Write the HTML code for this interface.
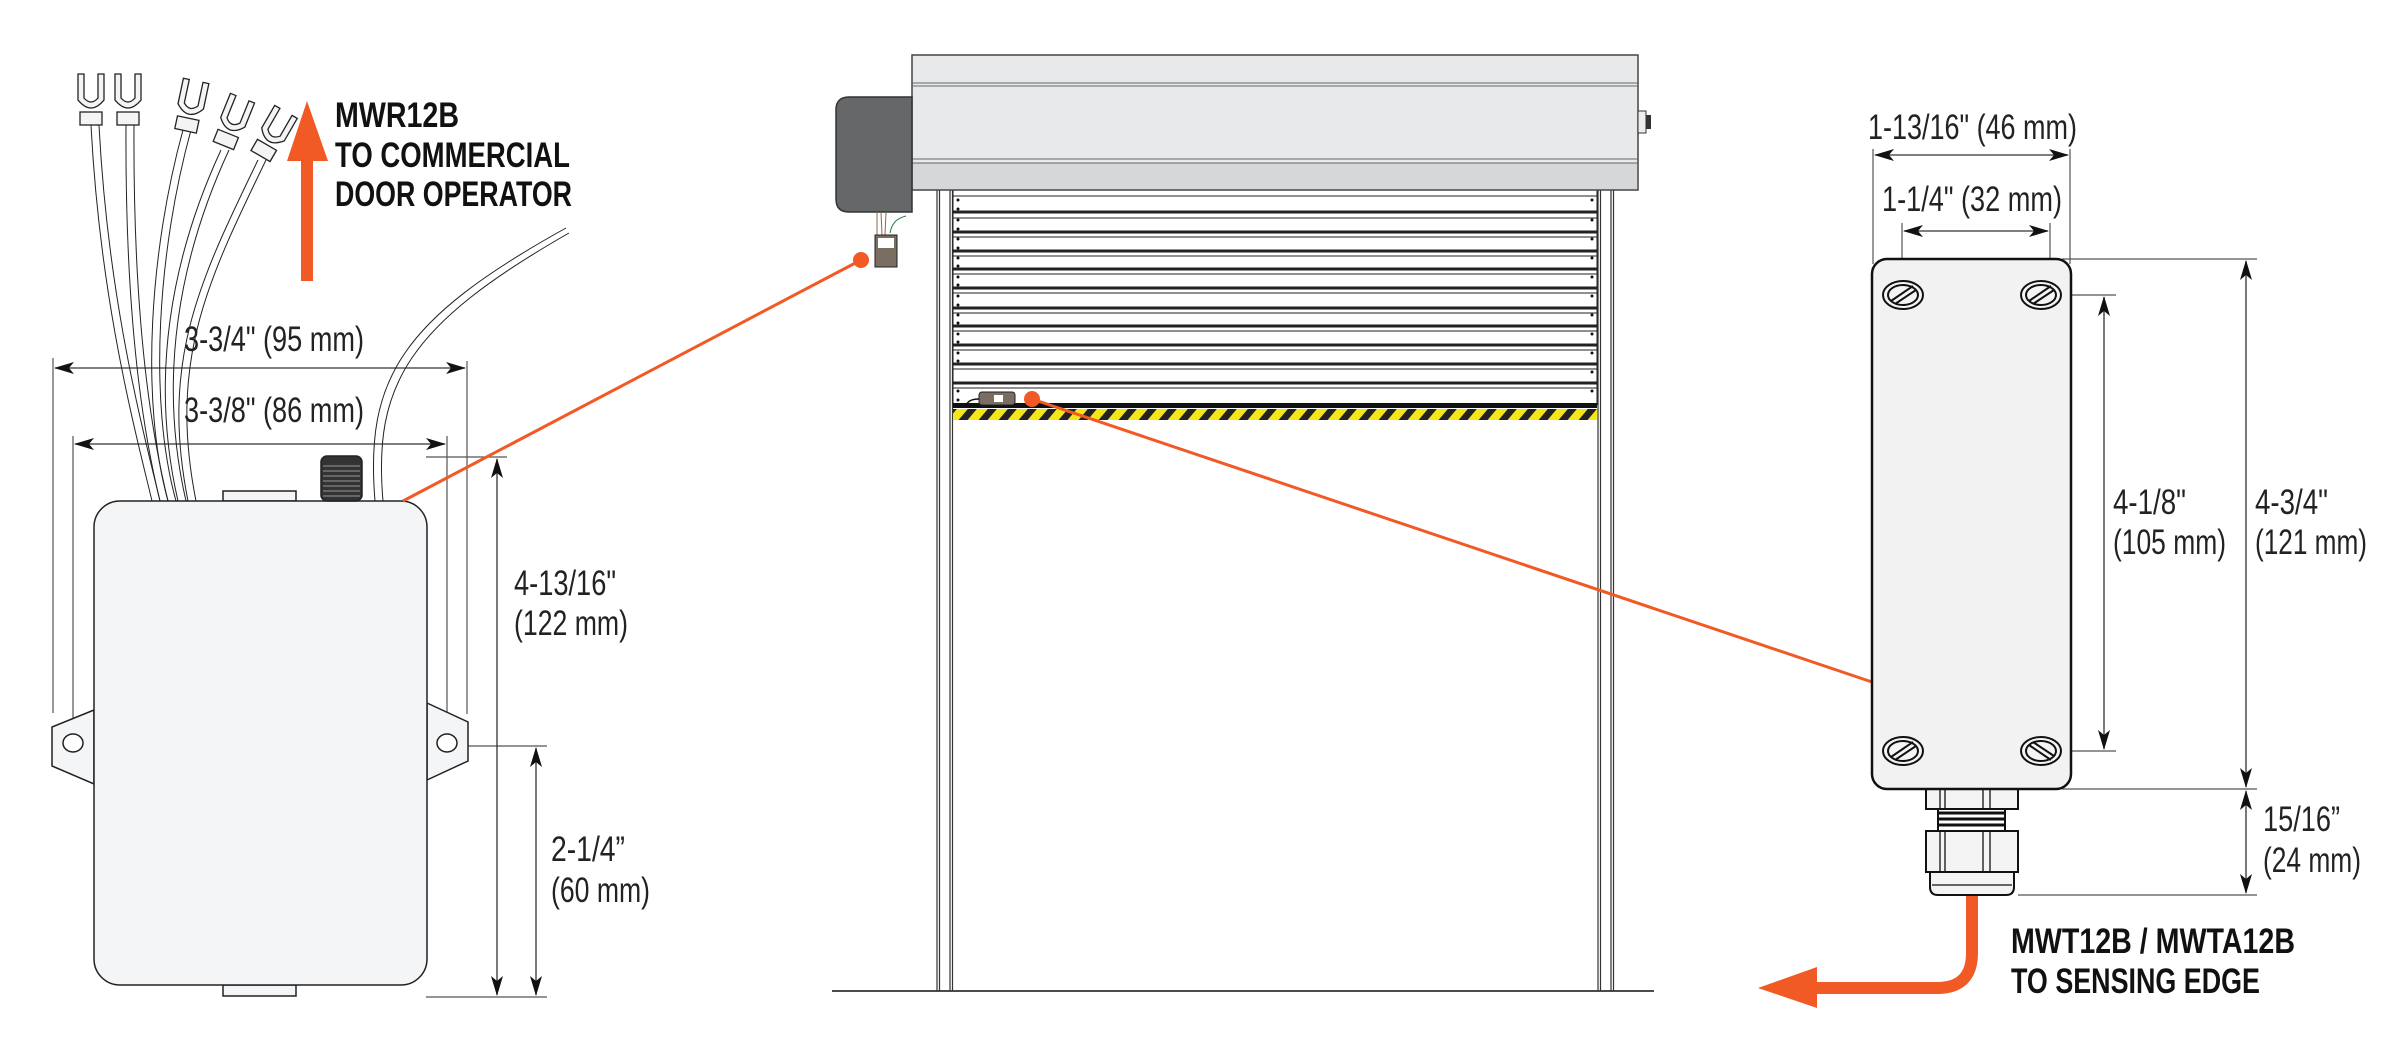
<!DOCTYPE html>
<html><head><meta charset="utf-8"><style>html,body{margin:0;padding:0;background:#fff}svg{display:block}</style></head>
<body>
<svg width="2392" height="1059" viewBox="0 0 2392 1059" xmlns="http://www.w3.org/2000/svg" font-family="'Liberation Sans', sans-serif">
<defs>
<marker id="ah" viewBox="0 0 20 12" refX="19" refY="6" markerWidth="20" markerHeight="12" markerUnits="userSpaceOnUse" orient="auto-start-reverse"><path d="M0,0 L20,6 L0,12 L5,6 Z" fill="#111"/></marker>
<pattern id="haz" width="20" height="12" patternUnits="userSpaceOnUse" patternTransform="skewX(-40)"><rect width="20" height="12" fill="#222"/><rect width="11" height="12" fill="#f5e61a"/></pattern>
</defs>

<!-- LEFT DEVICE -->
<g stroke="#555" stroke-width="1.2" fill="none">
<line x1="53" y1="358" x2="53" y2="713"/><line x1="467" y1="361" x2="467" y2="714"/>
<line x1="73" y1="436" x2="73" y2="757"/><line x1="447" y1="436" x2="447" y2="757"/>
<line x1="426" y1="457" x2="507" y2="457"/><line x1="426" y1="997" x2="547" y2="997"/><line x1="432" y1="746" x2="547" y2="746"/>
</g>
<g stroke="#333" stroke-width="1.3">
<line x1="55" y1="368" x2="465" y2="368" marker-start="url(#ah)" marker-end="url(#ah)"/>
<line x1="75" y1="444" x2="445" y2="444" marker-start="url(#ah)" marker-end="url(#ah)"/>
<line x1="497" y1="459" x2="497" y2="995" marker-start="url(#ah)" marker-end="url(#ah)"/>
<line x1="536" y1="748" x2="536" y2="995" marker-start="url(#ah)" marker-end="url(#ah)"/>
</g>
<!-- wires -->
<g fill="none" stroke="#222" stroke-width="1">
<path d="M152,501 C135,430 100,300 91,125 M160,501 C143,430 108,300 99,125"/>
<path d="M160,501 C140,420 125,300 126,125 M168,501 C148,420 133,300 134,125"/>
<path d="M168,501 C140,400 150,250 183,130 M176,501 C148,400 158,250 191,130"/>
<path d="M178,501 C150,380 170,260 221,150 M186,501 C158,380 178,260 229,150"/>
<path d="M188,501 C160,360 200,280 258,160 M196,501 C168,360 208,280 266,160"/>
<path d="M375,501 C365,380 400,320 566,228 M383,501 C373,385 408,325 569,233"/>
</g>
<g fill="#f4f4f4" stroke="#222" stroke-width="1.3">
<g transform="translate(91,118)"><rect x="-11" y="-6" width="22" height="13"/><path d="M-13,-44 L-7,-44 L-7,-20 Q0,-12 7,-20 L7,-44 L13,-44 L13,-18 Q0,-2 -13,-18 Z"/></g>
<g transform="translate(128,118)"><rect x="-11" y="-6" width="22" height="13"/><path d="M-13,-44 L-7,-44 L-7,-20 Q0,-12 7,-20 L7,-44 L13,-44 L13,-18 Q0,-2 -13,-18 Z"/></g>
<g transform="translate(187,124) rotate(12)"><rect x="-11" y="-6" width="22" height="13"/><path d="M-13,-44 L-7,-44 L-7,-20 Q0,-12 7,-20 L7,-44 L13,-44 L13,-18 Q0,-2 -13,-18 Z"/></g>
<g transform="translate(226,139) rotate(22)"><rect x="-11" y="-6" width="22" height="13"/><path d="M-13,-44 L-7,-44 L-7,-20 Q0,-12 7,-20 L7,-44 L13,-44 L13,-18 Q0,-2 -13,-18 Z"/></g>
<g transform="translate(264,150) rotate(30)"><rect x="-11" y="-6" width="22" height="13"/><path d="M-13,-44 L-7,-44 L-7,-20 Q0,-12 7,-20 L7,-44 L13,-44 L13,-18 Q0,-2 -13,-18 Z"/></g>
</g>
<g stroke="#222" stroke-width="1.5" fill="#f4f5f7">
<path d="M94,710 L52,727 L52,766 L94,784 Z"/><path d="M427,703 L468,722 L468,761 L427,780 Z"/>
<rect x="223" y="491" width="73" height="10"/><rect x="223" y="985" width="73" height="11"/>
<rect x="94" y="501" width="333" height="484" rx="26"/>
<ellipse cx="73" cy="743" rx="10" ry="9" fill="#fff"/><ellipse cx="447" cy="743" rx="10" ry="9" fill="#fff"/>
<rect x="321" y="456" width="41" height="45" rx="6" fill="#333"/>
</g>
<g stroke="#999" stroke-width="1"><path d="M323,466 H360 M323,471 H360 M323,476 H360 M323,481 H360 M323,486 H360 M323,491 H360 M323,496 H360"/></g>
<!-- orange up arrow -->
<rect x="301" y="158" width="12" height="123" fill="#f15a24"/>
<path d="M287,161 L307,101 L328,161 Z" fill="#f15a24"/>
<g font-weight="bold" font-size="35" fill="#111">
<text x="335" y="127" textLength="124" lengthAdjust="spacingAndGlyphs">MWR12B</text>
<text x="335" y="167" textLength="235" lengthAdjust="spacingAndGlyphs">TO COMMERCIAL</text>
<text x="335" y="206" textLength="237" lengthAdjust="spacingAndGlyphs">DOOR OPERATOR</text>
</g>
<g font-size="35" fill="#222">
<text x="184" y="351" textLength="180" lengthAdjust="spacingAndGlyphs">3-3/4" (95 mm)</text>
<text x="184" y="422" textLength="180" lengthAdjust="spacingAndGlyphs">3-3/8" (86 mm)</text>
<text x="514" y="595" textLength="102" lengthAdjust="spacingAndGlyphs">4-13/16"</text>
<text x="514" y="635" textLength="114" lengthAdjust="spacingAndGlyphs">(122 mm)</text>
<text x="551" y="861" textLength="74" lengthAdjust="spacingAndGlyphs">2-1/4”</text>
<text x="551" y="902" textLength="99" lengthAdjust="spacingAndGlyphs">(60 mm)</text>
</g>

<!-- MIDDLE DOOR -->
<line x1="832" y1="991" x2="1654" y2="991" stroke="#111" stroke-width="1.5"/>
<g stroke="#333" stroke-width="1.2" fill="none">
<line x1="937" y1="190" x2="937" y2="991"/><line x1="939.5" y1="190" x2="939.5" y2="991"/>
<line x1="950" y1="190" x2="950" y2="991"/><line x1="952.5" y1="190" x2="952.5" y2="991"/>
<line x1="1598" y1="190" x2="1598" y2="991"/><line x1="1600.5" y1="190" x2="1600.5" y2="991"/>
<line x1="1611" y1="190" x2="1611" y2="991"/><line x1="1613.5" y1="190" x2="1613.5" y2="991"/>
</g>
<rect x="953" y="190" width="644" height="215" fill="#fff"/>
<g stroke="#222" fill="none">
<g stroke-width="1"><path d="M953,196 H1597 M953,218 H1597 M953,237 H1597 M953,256 H1597 M953,274 H1597 M953,293 H1597 M953,313 H1597 M953,331 H1597 M953,350 H1597 M953,369 H1597 M953,388 H1597"/></g>
<g stroke-width="3"><path d="M953,212 H1597 M953,232 H1597 M953,251 H1597 M953,269 H1597 M953,288 H1597 M953,308 H1597 M953,326 H1597 M953,345 H1597 M953,364 H1597 M953,383 H1597"/></g>
<path d="M953,190 V405 M1597,190 V405" stroke-width="1"/>
</g>
<g fill="#111"><circle cx="958" cy="200" r="1.5"/><circle cx="958" cy="209" r="1.5"/><circle cx="958" cy="220" r="1.5"/><circle cx="958" cy="229" r="1.5"/><circle cx="958" cy="239" r="1.5"/><circle cx="958" cy="248" r="1.5"/><circle cx="958" cy="258" r="1.5"/><circle cx="958" cy="266" r="1.5"/><circle cx="958" cy="277" r="1.5"/><circle cx="958" cy="285" r="1.5"/><circle cx="958" cy="296" r="1.5"/><circle cx="958" cy="305" r="1.5"/><circle cx="958" cy="315" r="1.5"/><circle cx="958" cy="323" r="1.5"/><circle cx="958" cy="334" r="1.5"/><circle cx="958" cy="342" r="1.5"/><circle cx="958" cy="353" r="1.5"/><circle cx="958" cy="361" r="1.5"/><circle cx="958" cy="391" r="1.5"/><circle cx="958" cy="400" r="1.5"/>
<circle cx="1592" cy="200" r="1.5"/><circle cx="1592" cy="220" r="1.5"/><circle cx="1592" cy="239" r="1.5"/><circle cx="1592" cy="258" r="1.5"/><circle cx="1592" cy="277" r="1.5"/><circle cx="1592" cy="296" r="1.5"/><circle cx="1592" cy="315" r="1.5"/><circle cx="1592" cy="334" r="1.5"/><circle cx="1592" cy="353" r="1.5"/><circle cx="1592" cy="372" r="1.5"/><circle cx="1592" cy="391" r="1.5"/></g>
<rect x="953" y="403" width="644" height="5" fill="#111"/>
<rect x="953" y="409" width="644" height="11" fill="url(#haz)"/>
<!-- sensor on slat -->
<rect x="979" y="392" width="36" height="13" rx="3" fill="#7a6e62" stroke="#222" stroke-width="1"/>
<rect x="994" y="395" width="9" height="7" fill="#fff"/>
<path d="M979,399 C970,399 967,402 966,406" stroke="#111" fill="none" stroke-width="1.5"/>
<!-- header -->
<rect x="912" y="55" width="726" height="135" fill="#e8e9eb" stroke="#444" stroke-width="1.5"/>
<rect x="913" y="163" width="724" height="26" fill="#d6d7d9"/>
<g stroke="#666" stroke-width="1"><path d="M912,83 H1638 M912,86 H1638 M912,159 H1638 M912,163 H1638"/></g>
<rect x="1638" y="111" width="8" height="22" fill="#eee" stroke="#333"/><rect x="1646" y="115" width="5" height="14" fill="#333"/>
<!-- motor -->
<path d="M912,97 L849,97 Q836,97 836,110 L836,199 Q836,212 849,212 L912,212 Z" fill="#666769" stroke="#333" stroke-width="1.5"/>
<path d="M877,212 L877,235 M881,212 L882,235 M886,212 L885,235" stroke="#8a6a4a" stroke-width="1"/>
<path d="M890,233 C892,222 898,218 906,216" stroke="#2a7a4a" fill="none" stroke-width="1"/>
<rect x="875" y="235" width="22" height="32" fill="#7a6e62" stroke="#222" stroke-width="1"/>
<rect x="878" y="238" width="16" height="10" fill="#fff"/>
<!-- orange leaders -->
<g stroke="#f15a24" stroke-width="3" fill="none">
<line x1="403" y1="501" x2="861" y2="260"/>
<line x1="1032" y1="399" x2="1872" y2="682"/>
</g>
<circle cx="861" cy="260" r="8" fill="#f15a24"/><circle cx="1032" cy="399" r="8" fill="#f15a24"/>

<!-- RIGHT DEVICE -->
<g stroke="#555" stroke-width="1.2" fill="none">
<line x1="1873" y1="149" x2="1873" y2="264"/><line x1="2070" y1="149" x2="2070" y2="264"/>
<line x1="1902" y1="223" x2="1902" y2="274"/><line x1="2050" y1="223" x2="2050" y2="274"/>
<line x1="2062" y1="259" x2="2257" y2="259"/><line x1="2062" y1="789" x2="2257" y2="789"/>
<line x1="2062" y1="295" x2="2116" y2="295"/><line x1="2062" y1="751" x2="2116" y2="751"/>
<line x1="2018" y1="895" x2="2257" y2="895"/>
</g>
<g stroke="#333" stroke-width="1.3">
<line x1="1875" y1="155" x2="2068" y2="155" marker-start="url(#ah)" marker-end="url(#ah)"/>
<line x1="1904" y1="231" x2="2048" y2="231" marker-start="url(#ah)" marker-end="url(#ah)"/>
<line x1="2246" y1="261" x2="2246" y2="787" marker-start="url(#ah)" marker-end="url(#ah)"/>
<line x1="2104" y1="297" x2="2104" y2="749" marker-start="url(#ah)" marker-end="url(#ah)"/>
<line x1="2246" y1="791" x2="2246" y2="893" marker-start="url(#ah)" marker-end="url(#ah)"/>
</g>
<!-- orange cable -->
<path d="M1972,893 V953 Q1972,988 1937,988 H1815" stroke="#f15a24" stroke-width="12" fill="none"/>
<path d="M1817,967 L1758,988 L1817,1008 Z" fill="#f15a24"/>
<!-- gland -->
<g stroke="#111" stroke-width="2" fill="#f4f4f4">
<rect x="1926" y="788" width="92" height="21"/>
<rect x="1938" y="809" width="67" height="22" fill="#fff"/>
<rect x="1926" y="831" width="92" height="41"/>
<path d="M1930,872 H2014 V887 Q2014,895 2006,895 H1938 Q1930,895 1930,887 Z"/>
</g>
<g stroke="#111" stroke-width="3"><path d="M1938,813 H2005 M1938,819 H2005 M1938,825 H2005"/></g>
<g stroke="#111" stroke-width="1.3"><path d="M1940,788 V809 M1945,788 V809 M1983,788 V809 M1990,788 V809 M1940,831 V872 M1945,831 V872 M1983,831 V872 M1990,831 V872 M1932,885 H2012"/></g>
<rect x="1872" y="259" width="199" height="530" rx="15" fill="#f2f2f2" stroke="#111" stroke-width="2.5"/>
<g stroke="#111" stroke-width="2" fill="#f4f4f4">
<g transform="translate(1903,295)"><ellipse rx="20" ry="14"/><ellipse rx="15" ry="10"/><path d="M-12,6 L10,-9 M-8,9 L13,-5"/></g>
<g transform="translate(2041,295)"><ellipse rx="20" ry="14"/><ellipse rx="15" ry="10"/><path d="M-12,6 L10,-9 M-8,9 L13,-5"/></g>
<g transform="translate(1903,751)"><ellipse rx="20" ry="14"/><ellipse rx="15" ry="10"/><path d="M-12,6 L10,-9 M-8,9 L13,-5"/></g>
<g transform="translate(2041,751)"><ellipse rx="20" ry="14"/><ellipse rx="15" ry="10"/><path d="M-12,-6 L10,9 M-8,-9 L13,5"/></g>
</g>
<g font-size="35" fill="#222">
<text x="1868" y="139" textLength="209" lengthAdjust="spacingAndGlyphs">1-13/16" (46 mm)</text>
<text x="1882" y="211" textLength="180" lengthAdjust="spacingAndGlyphs">1-1/4" (32 mm)</text>
<text x="2113" y="514" textLength="73" lengthAdjust="spacingAndGlyphs">4-1/8"</text>
<text x="2113" y="554" textLength="113" lengthAdjust="spacingAndGlyphs">(105 mm)</text>
<text x="2255" y="514" textLength="73" lengthAdjust="spacingAndGlyphs">4-3/4"</text>
<text x="2255" y="554" textLength="112" lengthAdjust="spacingAndGlyphs">(121 mm)</text>
<text x="2263" y="831" textLength="77" lengthAdjust="spacingAndGlyphs">15/16”</text>
<text x="2263" y="872" textLength="98" lengthAdjust="spacingAndGlyphs">(24 mm)</text>
</g>
<g font-weight="bold" font-size="35" fill="#111">
<text x="2011" y="953" textLength="284" lengthAdjust="spacingAndGlyphs">MWT12B / MWTA12B</text>
<text x="2011" y="993" textLength="249" lengthAdjust="spacingAndGlyphs">TO SENSING EDGE</text>
</g>
</svg>
</body></html>
